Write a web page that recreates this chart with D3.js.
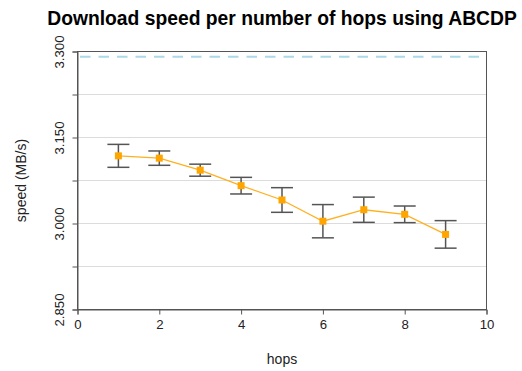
<!DOCTYPE html>
<html>
<head>
<meta charset="utf-8">
<script src="https://cdn.jsdelivr.net/npm/d3@7/dist/d3.min.js"></script>
<style>
  html, body { margin: 0; padding: 0; background: #fff; }
  svg { display: block; font-family: "Liberation Sans", Arial, sans-serif; }
</style>
</head>
<body>
<svg id="chart" width="522" height="371"></svg>
<script>
// Mean download speed per hop count, with error bar half-widths
const hops = [1, 2, 3, 4, 5, 6, 7, 8, 9];
const speed = [3.118, 3.114, 3.093, 3.066, 3.041, 3.004, 3.024, 3.016, 2.981];
const errorHalf = [0.020, 0.0125, 0.0105, 0.0145, 0.0215, 0.029, 0.022, 0.0145, 0.024];
const referenceSpeed = 3.291;
const xTicks = [0, 2, 4, 6, 8, 10];
const yTicks = [2.85, 2.925, 3.0, 3.075, 3.15, 3.225, 3.3];
const yLabelled = [2.85, 3.0, 3.15, 3.3];

const svg = d3.select("#chart");
const margin = { left: 77.5, right: 35.5, top: 51.5, bottom: 61.5 };
const W = 522, H = 371;

const x = d3.scaleLinear().domain([0, 10]).range([margin.left, W - margin.right]);
const y = d3.scaleLinear().domain([2.85, 3.3]).range([H - margin.bottom, margin.top]);

// horizontal grid
svg.append("g").selectAll("line").data(yTicks).join("line")
  .attr("x1", x(0)).attr("x2", x(10))
  .attr("y1", d => y(d)).attr("y2", d => y(d))
  .attr("stroke", "#dcdcdc").attr("stroke-width", 1);

// reference level
svg.append("line")
  .attr("x1", x(0) + 2.5).attr("x2", x(10))
  .attr("y1", y(referenceSpeed)).attr("y2", y(referenceSpeed))
  .attr("stroke", "#add8e6").attr("stroke-width", 2)
  .attr("stroke-dasharray", "10.5,8");

// plot frame
svg.append("rect")
  .attr("x", x(0)).attr("y", y(3.3))
  .attr("width", x(10) - x(0)).attr("height", y(2.85) - y(3.3))
  .attr("fill", "none").attr("stroke", "#555").attr("stroke-width", 1);

// axes
const xAxis = svg.append("g")
  .attr("transform", `translate(0,${y(2.85)})`)
  .call(d3.axisBottom(x).tickValues(xTicks).tickSize(5).tickPadding(5).tickFormat(d3.format("d")));
xAxis.select(".domain").attr("stroke", "#555");
xAxis.selectAll(".tick line").attr("stroke", "#555");
xAxis.selectAll("text").attr("font-size", 13.2).attr("fill", "#222")
  .attr("font-family", "Liberation Sans, Arial, sans-serif");

const yAxis = svg.append("g")
  .attr("transform", `translate(${x(0)},0)`)
  .call(d3.axisLeft(y).tickValues(yTicks).tickSize(5)
    .tickFormat(d => yLabelled.some(v => Math.abs(v - d) < 1e-9) ? d3.format(".3f")(d) : ""));
yAxis.select(".domain").attr("stroke", "#555");
yAxis.selectAll(".tick line").attr("stroke", "#555");
yAxis.selectAll("text")
  .attr("font-size", 13.2).attr("fill", "#222")
  .attr("font-family", "Liberation Sans, Arial, sans-serif")
  .attr("x", 0).attr("dy", 0)
  .attr("text-anchor", "middle")
  .attr("transform", "translate(-13.5,0) rotate(-90)");

// error bars
const cap = 11;
const eb = svg.append("g").attr("stroke", "#555").attr("stroke-width", 1.5);
hops.forEach((h, i) => {
  const cx = x(h), top = y(speed[i] + errorHalf[i]), bot = y(speed[i] - errorHalf[i]);
  eb.append("line").attr("x1", cx).attr("x2", cx).attr("y1", top).attr("y2", bot);
  eb.append("line").attr("x1", cx - cap).attr("x2", cx + cap).attr("y1", top).attr("y2", top);
  eb.append("line").attr("x1", cx - cap).attr("x2", cx + cap).attr("y1", bot).attr("y2", bot);
});

// mean line and markers
const pts = hops.map((h, i) => [h, speed[i]]);
svg.append("path")
  .attr("d", d3.line().x(d => x(d[0])).y(d => y(d[1]))(pts))
  .attr("fill", "none").attr("stroke", "#ffb020").attr("stroke-width", 1.3);
svg.append("g").selectAll("rect").data(pts).join("rect")
  .attr("x", d => x(d[0]) - 3.5).attr("y", d => y(d[1]) - 3.5)
  .attr("width", 7).attr("height", 7)
  .attr("fill", "#ffa500");

// title and axis labels
svg.append("text")
  .attr("x", x(5)).attr("y", 25)
  .attr("text-anchor", "middle")
  .attr("font-size", 19.3).attr("font-weight", "bold").attr("fill", "#000")
  .text("Download speed per number of hops using ABCDP");

svg.append("text")
  .attr("x", x(5)).attr("y", 364)
  .attr("text-anchor", "middle")
  .attr("font-size", 14).attr("fill", "#222")
  .text("hops");

svg.append("text")
  .attr("transform", `translate(25.5,${(y(3.3) + y(2.85)) / 2}) rotate(-90)`)
  .attr("text-anchor", "middle")
  .attr("font-size", 14).attr("fill", "#222")
  .text("speed (MB/s)");
</script>
</body>
</html>
